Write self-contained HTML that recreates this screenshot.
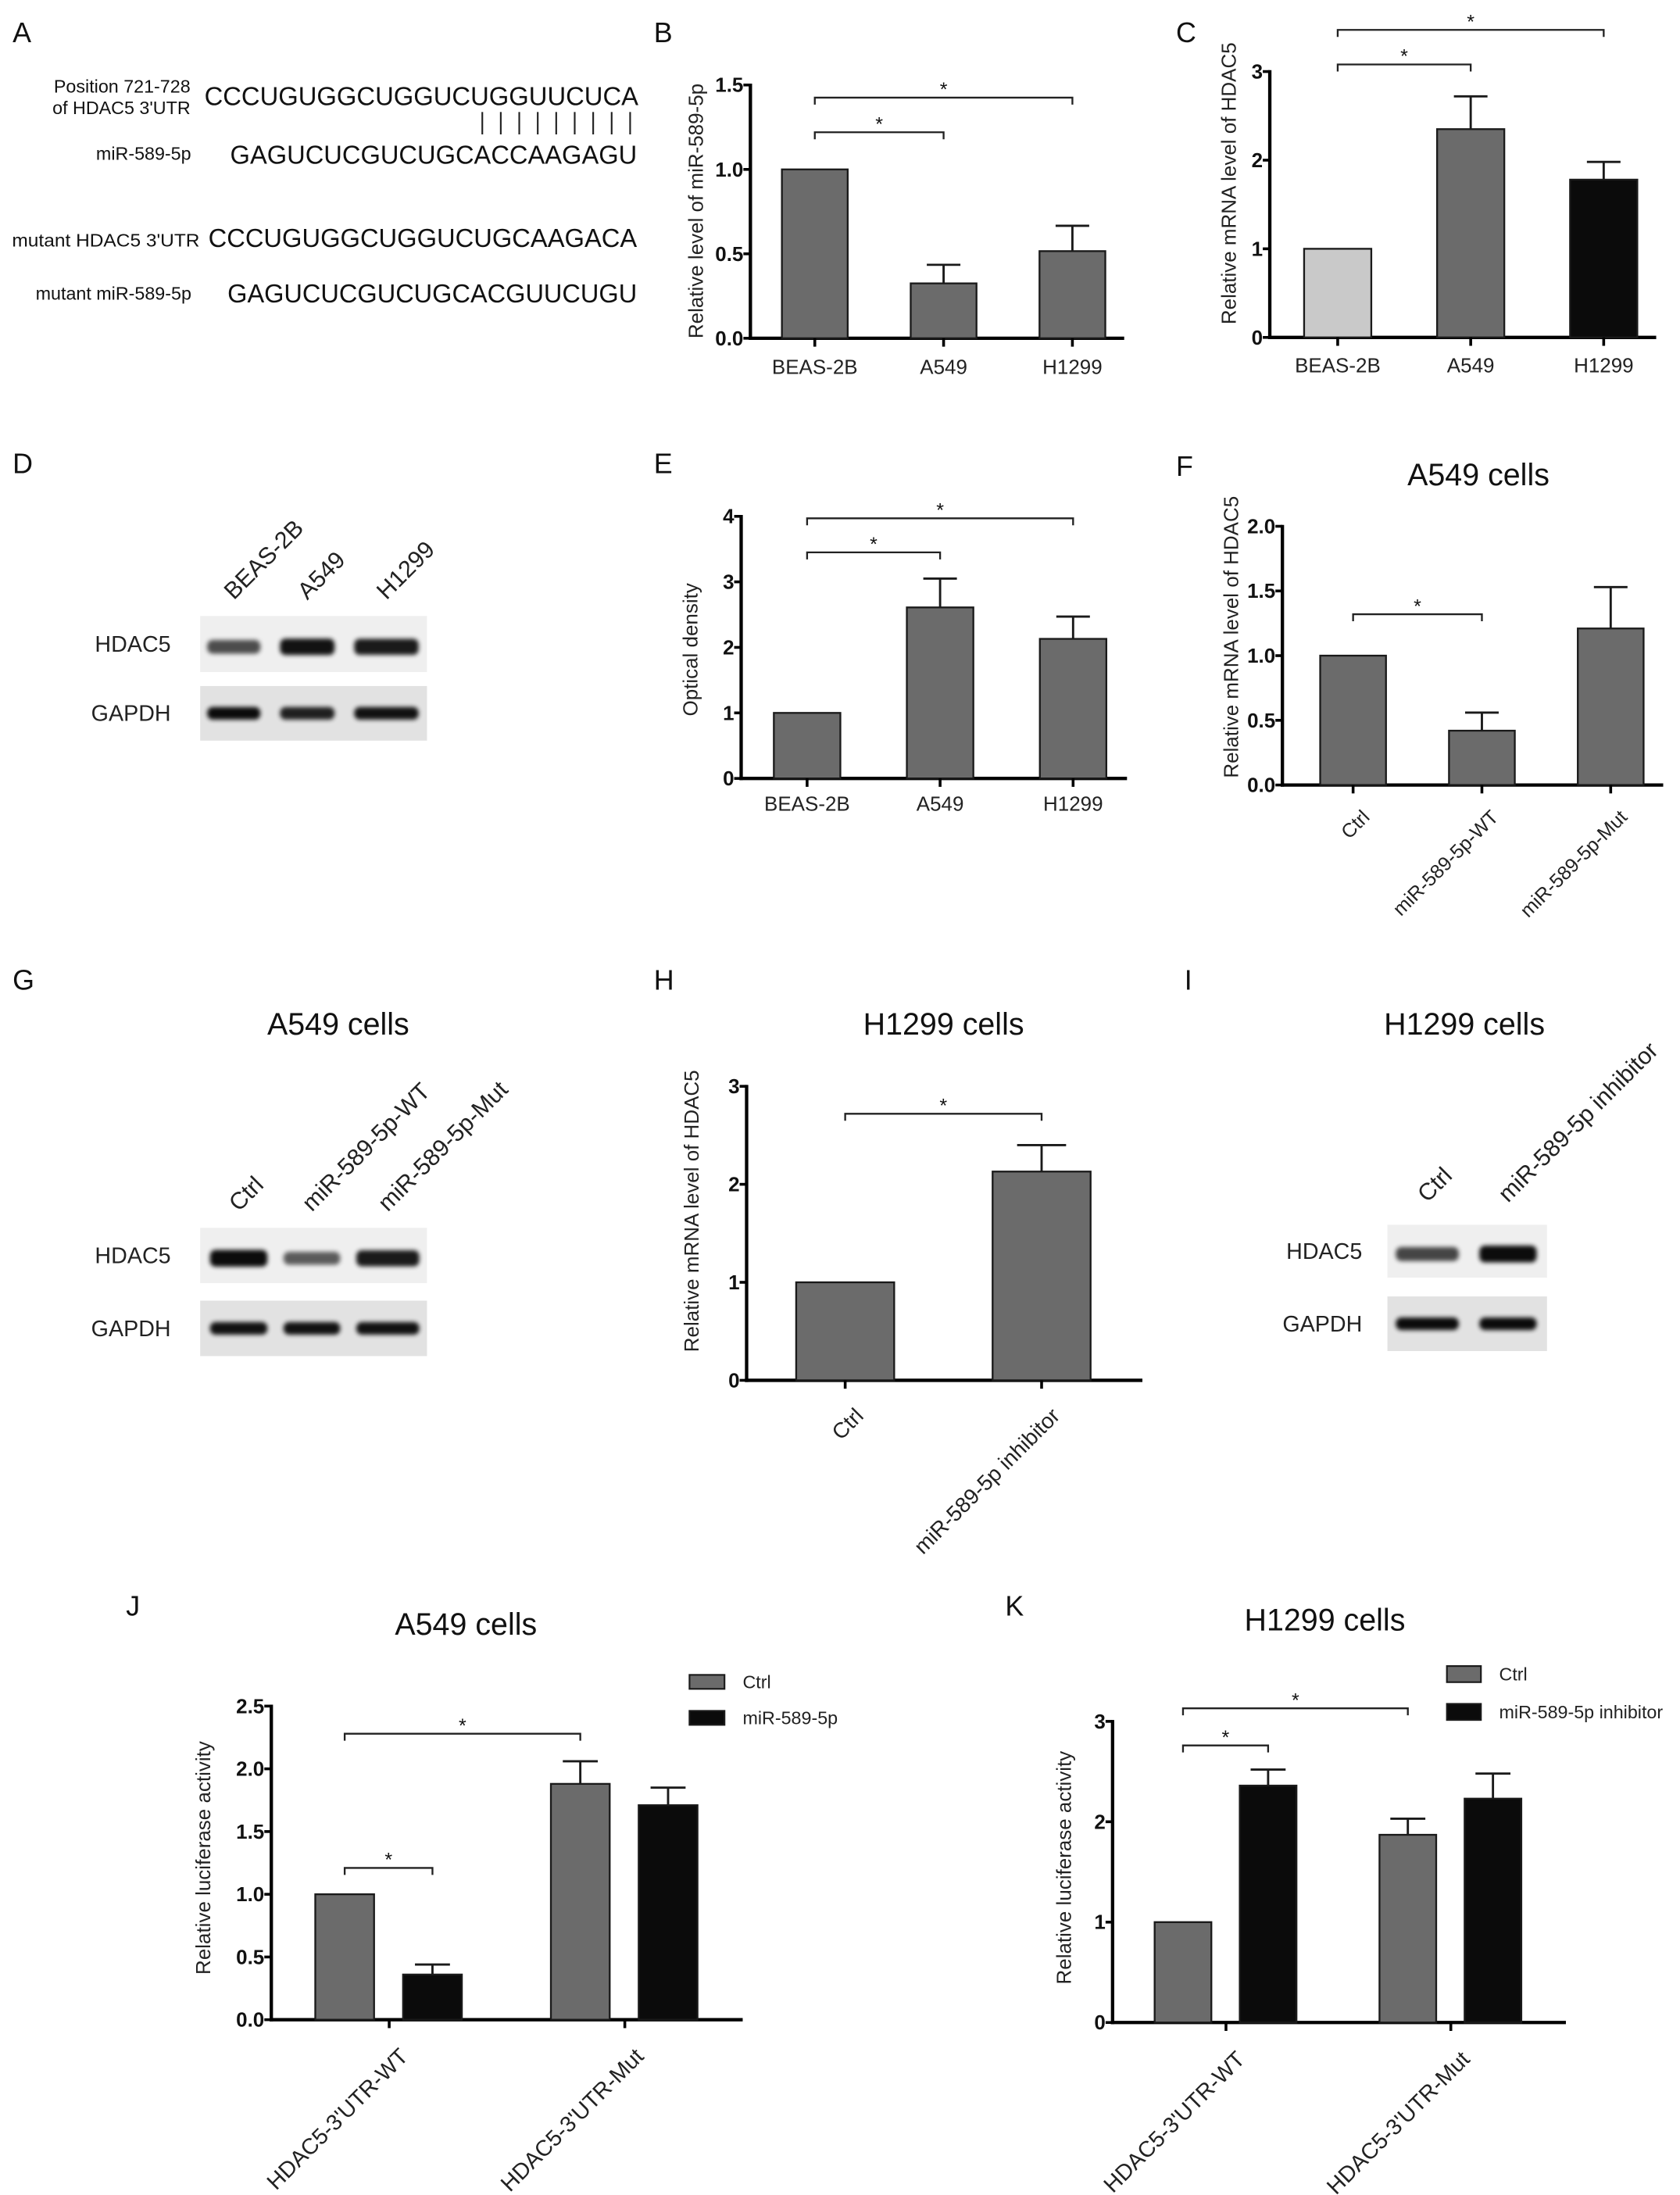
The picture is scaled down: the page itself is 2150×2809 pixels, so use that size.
<!DOCTYPE html>
<html><head><meta charset="utf-8"><title>HDAC5 / miR-589-5p figure</title>
<style>
html,body{margin:0;padding:0;background:#fff;}
svg{display:block;font-family:"Liberation Sans",Arial,sans-serif;}
</style></head>
<body>
<svg id="fig" xmlns="http://www.w3.org/2000/svg" width="2150" height="2809" viewBox="0 0 1200 1567.8" preserveAspectRatio="none">
<defs><filter id="blur" x="-20%" y="-80%" width="140%" height="260%"><feGaussianBlur stdDeviation="1.6"/></filter></defs>
<rect x="0" y="0" width="1200" height="1567.8" fill="#fff"/>

<g font-size="20" fill="#111">
<text x="9" y="30">A</text>
<text x="467" y="30">B</text>
<text x="840" y="30">C</text>
<text x="9" y="338">D</text>
<text x="467" y="338">E</text>
<text x="840" y="340">F</text>
<text x="9" y="707">G</text>
<text x="467" y="707">H</text>
<text x="846" y="707">I</text>
<text x="90" y="1154">J</text>
<text x="718" y="1154">K</text>
</g>

<g fill="#111">
<text x="136" y="66" font-size="13" text-anchor="end">Position 721-728</text>
<text x="136" y="81.5" font-size="13" text-anchor="end">of HDAC5 3'UTR</text>
<text x="146" y="75" font-size="18.4" textLength="310" lengthAdjust="spacingAndGlyphs">CCCUGUGGCUGGUCUGGUUCUCA</text>
<text x="136.5" y="114" font-size="13" text-anchor="end">miR-589-5p</text>
<text x="164.4" y="117" font-size="18.4" textLength="290.6" lengthAdjust="spacingAndGlyphs">GAGUCUCGUCUGCACCAAGAGU</text>
<text x="8.6" y="176" font-size="13" textLength="134" lengthAdjust="spacingAndGlyphs">mutant HDAC5 3'UTR</text>
<text x="148.8" y="176.5" font-size="18.4" textLength="306.2" lengthAdjust="spacingAndGlyphs">CCCUGUGGCUGGUCUGCAAGACA</text>
<text x="136.7" y="214" font-size="13" text-anchor="end">mutant miR-589-5p</text>
<text x="162.5" y="216" font-size="18.4" textLength="292.5" lengthAdjust="spacingAndGlyphs">GAGUCUCGUCUGCACGUUCUGU</text>
<g id="pairs" stroke="#222" stroke-width="1.2"></g>
</g>
<g id="charts"></g>
</svg>

<script>
const bCats = ["BEAS-2B","A549","H1299"];
const bVals = [1, 0.325, 0.516];
const bErr = [0, 0.11, 0.15];
const bTickVals = [0, 0.5, 1, 1.5];
const bTickLabels = ["0.0","0.5","1.0","1.5"];

const cCats = ["BEAS-2B","A549","H1299"];
const cVals = [1, 2.35, 1.78];
const cErr = [0, 0.37, 0.2];
const cTickVals = [0, 1, 2, 3];
const cTickLabels = ["0","1","2","3"];

const eCats = ["BEAS-2B","A549","H1299"];
const eVals = [1, 2.61, 2.13];
const eErr = [0, 0.44, 0.34];
const eTickVals = [0, 1, 2, 3, 4];
const eTickLabels = ["0","1","2","3","4"];

const fCats = ["Ctrl","miR-589-5p-WT","miR-589-5p-Mut"];
const fVals = [1, 0.42, 1.21];
const fErr = [0, 0.14, 0.32];
const fTickVals = [0, 0.5, 1, 1.5, 2];
const fTickLabels = ["0.0","0.5","1.0","1.5","2.0"];

const hCats = ["Ctrl","miR-589-5p inhibitor"];
const hVals = [1, 2.13];
const hErr = [0, 0.27];
const hTickVals = [0, 1, 2, 3];
const hTickLabels = ["0","1","2","3"];

const jCats = ["HDAC5-3'UTR-WT","HDAC5-3'UTR-Mut"];
const jSeries = ["Ctrl","miR-589-5p"];
const jCtrl = [1, 1.88];
const jCtrlErr = [0, 0.18];
const jMir = [0.36, 1.71];
const jMirErr = [0.08, 0.14];
const jTickVals = [0, 0.5, 1, 1.5, 2, 2.5];
const jTickLabels = ["0.0","0.5","1.0","1.5","2.0","2.5"];

const kCats = ["HDAC5-3'UTR-WT","HDAC5-3'UTR-Mut"];
const kSeries = ["Ctrl","miR-589-5p inhibitor"];
const kCtrl = [1, 1.87];
const kCtrlErr = [0, 0.16];
const kInh = [2.36, 2.23];
const kInhErr = [0.16, 0.25];
const kTickVals = [0, 1, 2, 3];
const kTickLabels = ["0","1","2","3"];

const NS = "http://www.w3.org/2000/svg";
const root = document.getElementById('charts');
function mk(tag, attrs, parent){
  const e = document.createElementNS(NS, tag);
  for (const k in attrs) e.setAttribute(k, attrs[k]);
  (parent || root).appendChild(e);
  return e;
}
function txt(str, attrs, parent){ const e = mk('text', attrs, parent); e.textContent = str; return e; }
const GRAY = "#6b6b6b", BLACK = "#0b0b0b", LIGHT = "#c9c9c9";

const pairs = document.getElementById('pairs');
for (let i = 0; i < 9; i++) {
  const l = mk('line', {x1: 344.5 + i*13.2, x2: 344.5 + i*13.2, y1: 80, y2: 96}, pairs);
  
  
}

function chart(name, cfg, tickVals, tickLabels, yTitle){
  const g = mk('g', {});
  
  
  const y = v => cfg.zeroY - v * cfg.unit;
  const x = i => cfg.c0 + i * cfg.step;
  const top = tickVals[tickVals.length - 1];
  const ya = mk('line', {x1: cfg.axisX, x2: cfg.axisX, y1: y(top) - 1, y2: cfg.zeroY + 1.2, stroke: "#000", "stroke-width": 2.4}, g);
  
  
  const xa = mk('line', {x1: cfg.axisX - 1.2, x2: cfg.xEnd, y1: cfg.zeroY, y2: cfg.zeroY, stroke: "#000", "stroke-width": 2.4}, g);
  
  
  tickVals.forEach((v, i) => {
    const t = mk('line', {x1: cfg.axisX - 5, x2: cfg.axisX, y1: y(v), y2: y(v), stroke: "#000", "stroke-width": 2}, g);
    
    
    const lb = txt(tickLabels[i], {x: cfg.axisX - 5, y: y(v) + 5, "font-size": 14.5, "font-weight": "bold", "text-anchor": "end", fill: "#111"}, g);
    
    
  });
  const yt = txt(yTitle, {x: 0, y: 0, "font-size": 14.5, "text-anchor": "middle", fill: "#222",
     transform: `translate(${cfg.titleX + 5},${cfg.titleY}) rotate(-90)`}, g);
  
  
  return {g, x, y};
}

function catLabels(ch, cfg, cats){
  cats.forEach((c, i) => {
    const cx = ch.x(i);
    const tk = mk('line', {x1: cx, x2: cx, y1: cfg.zeroY, y2: cfg.zeroY + 6, stroke: "#000", "stroke-width": 2}, ch.g);
    
    
    let t;
    if (cfg.rot) {
      const tx = cx + 0.9 * cfg.catFs, ty = cfg.zeroY + 1.7 * cfg.catFs;
      t = txt(c, {x: tx, y: ty, "font-size": cfg.catFs, "text-anchor": "end", fill: "#222", transform: `rotate(-45 ${tx} ${ty})`}, ch.g);
    } else {
      t = txt(c, {x: cx, y: cfg.catY, "font-size": cfg.catFs, "text-anchor": "middle", fill: "#222"}, ch.g);
    }
    
    
  });
}

function bar(ch, cfg, cx, w, v, err, fill){
  const r = mk('rect', {x: cx - w/2, y: ch.y(v), width: w, height: cfg.zeroY - ch.y(v), fill: fill, stroke: "#1a1a1a", "stroke-width": 1.3}, ch.g);
  
  
  if (err > 0) {
    const e = mk('path', {d: `M${cx} ${ch.y(v)} V${ch.y(v + err)} M${cx - cfg.cap/2} ${ch.y(v + err)} H${cx + cfg.cap/2}`, stroke: "#1a1a1a", "stroke-width": 1.6, fill: "none"}, ch.g);
    
    
  }
}

function bracket(ch, x1, x2, v){
  const yy = ch.y(v);
  const p = mk('path', {d: `M${x1} ${yy + 5} V${yy} H${x2} V${yy + 5}`, stroke: "#222", "stroke-width": 1.3, fill: "none"}, ch.g);
  
  
  const s = txt("*", {x: (x1 + x2)/2, y: yy - 1, "font-size": 14, "text-anchor": "middle", fill: "#111"}, ch.g);
  
  
}

function title(str, x, y){
  const t = txt(str, {x: x, y: y, "font-size": 22, "text-anchor": "middle", fill: "#111"});
  
  
}

const cfgB = {axisX:536, zeroY:241.6, unit:120.6, xEnd:803, c0:582, step:92, barW:47, cap:24, catFs:14.5, catY:267, titleX:497, titleY:150.7};
const chB = chart('chart-b-mir589-level', cfgB, bTickVals, bTickLabels, "Relative level of miR-589-5p");
bCats.forEach((c, i) => bar(chB, cfgB, chB.x(i), cfgB.barW, bVals[i], bErr[i], GRAY));
catLabels(chB, cfgB, bCats);
bracket(chB, chB.x(0), chB.x(1), 1.22);
bracket(chB, chB.x(0), chB.x(2), 1.425);

const cfgC = {axisX:907, zeroY:241, unit:63.3, xEnd:1183, c0:955.5, step:95, barW:48, cap:24, catFs:14.5, catY:266, titleX:877.7, titleY:131};
const cColors = [LIGHT, GRAY, BLACK];
const chC = chart('chart-c-hdac5-mrna', cfgC, cTickVals, cTickLabels, "Relative mRNA level of HDAC5");
cCats.forEach((c, i) => bar(chC, cfgC, chC.x(i), cfgC.barW, cVals[i], cErr[i], cColors[i]));
catLabels(chC, cfgC, cCats);
bracket(chC, chC.x(0), chC.x(1), 3.08);
bracket(chC, chC.x(0), chC.x(2), 3.47);

const cfgE = {axisX:529.4, zeroY:556, unit:46.8, xEnd:805, c0:576.5, step:95, barW:47.5, cap:24, catFs:14.5, catY:579, titleX:493, titleY:464};
const chE = chart('chart-e-optical-density', cfgE, eTickVals, eTickLabels, "Optical density");
eCats.forEach((c, i) => bar(chE, cfgE, chE.x(i), cfgE.barW, eVals[i], eErr[i], GRAY));
catLabels(chE, cfgE, eCats);
bracket(chE, chE.x(0), chE.x(1), 3.45);
bracket(chE, chE.x(0), chE.x(2), 3.97);

title("A549 cells", 1056, 346.5);
const cfgF = {axisX:916, zeroY:560.7, unit:92.4, xEnd:1188, c0:966.5, step:92, barW:47, cap:24, catFs:14, rot:true, titleX:879.5, titleY:455};
const chF = chart('chart-f-a549-hdac5', cfgF, fTickVals, fTickLabels, "Relative mRNA level of HDAC5");
fCats.forEach((c, i) => bar(chF, cfgF, chF.x(i), cfgF.barW, fVals[i], fErr[i], GRAY));
catLabels(chF, cfgF, fCats);
bracket(chF, chF.x(0), chF.x(1), 1.32);

title("H1299 cells", 674, 739);
const cfgH = {axisX:533.3, zeroY:985.9, unit:70, xEnd:816, c0:603.7, step:140.3, barW:70, cap:35, catFs:15.5, rot:true, titleX:494, titleY:865};
const chH = chart('chart-h-h1299-hdac5', cfgH, hTickVals, hTickLabels, "Relative mRNA level of HDAC5");
hCats.forEach((c, i) => bar(chH, cfgH, chH.x(i), cfgH.barW, hVals[i], hErr[i], GRAY));
catLabels(chH, cfgH, hCats);
bracket(chH, chH.x(0), chH.x(1), 2.72);

title("A549 cells", 332.8, 1167.5);
const cfgJ = {axisX:193.8, zeroY:1442.6, unit:89.6, xEnd:530.5, c0:278, step:168.3, barW:42, off:[-31.8, 30.9], cap:25, catFs:16, rot:true, titleX:145, titleY:1327};
const chJ = chart('chart-j-a549-luciferase', cfgJ, jTickVals, jTickLabels, "Relative luciferase activity");
jCats.forEach((c, i) => {
  bar(chJ, cfgJ, chJ.x(i) + cfgJ.off[0], cfgJ.barW, jCtrl[i], jCtrlErr[i], GRAY);
  bar(chJ, cfgJ, chJ.x(i) + cfgJ.off[1], cfgJ.barW, jMir[i], jMirErr[i], BLACK);
});
catLabels(chJ, cfgJ, jCats);
bracket(chJ, chJ.x(0) + cfgJ.off[0], chJ.x(0) + cfgJ.off[1], 1.21);
bracket(chJ, chJ.x(0) + cfgJ.off[0], chJ.x(1) + cfgJ.off[0], 2.28);

title("H1299 cells", 946.3, 1164.5);
const cfgK = {axisX:794.7, zeroY:1444.6, unit:71.7, xEnd:1118.5, c0:875.7, step:160.6, barW:40.5, off:[-30.7, 30.1], cap:25, catFs:16, rot:true, titleX:760, titleY:1334};
const chK = chart('chart-k-h1299-luciferase', cfgK, kTickVals, kTickLabels, "Relative luciferase activity");
kCats.forEach((c, i) => {
  bar(chK, cfgK, chK.x(i) + cfgK.off[0], cfgK.barW, kCtrl[i], kCtrlErr[i], GRAY);
  bar(chK, cfgK, chK.x(i) + cfgK.off[1], cfgK.barW, kInh[i], kInhErr[i], BLACK);
});
catLabels(chK, cfgK, kCats);
bracket(chK, chK.x(0) + cfgK.off[0], chK.x(0) + cfgK.off[1], 2.76);
bracket(chK, chK.x(0) + cfgK.off[0], chK.x(1) + cfgK.off[0], 3.13);

function legend(name, bx, ty0, labels, colors, bw, bh, gap, tx){
  const g = mk('g', {});
  
  
  labels.forEach((l, i) => {
    const r = mk('rect', {x: bx, y: ty0 + i*gap, width: bw, height: bh, fill: colors[i], stroke: "#1a1a1a", "stroke-width": 1.2}, g);
    
    
    const t = txt(l, {x: tx, y: ty0 + i*gap + bh/2 + 4.6, "font-size": 13, fill: "#222"}, g);
    
    
  });
}
legend('legend-j', 492.5, 1196.3, jSeries, [GRAY, BLACK], 25, 10, 25.7, 530.5);
legend('legend-k', 1033.5, 1190, kSeries, [GRAY, BLACK], 24.3, 11.5, 27, 1070.8);

function blot(name, lanes, laneLabels, x0, x1, boxes, rows, rowLabelX, intens, labelY){
  const g = mk('g', {});
  
  
  boxes.forEach((b, r) => {
    const bg = mk('rect', {x: x0, y: b[0], width: x1 - x0, height: b[1] - b[0], fill: r === 0 ? "#efefef" : "#e2e2e2"}, g);
    
    
    const rl = txt(rows[r], {x: rowLabelX, y: (b[0] + b[1])/2 + 5.5, "font-size": 16, "text-anchor": "end", fill: "#222"}, g);
    
    
    lanes.forEach((ln, i) => {
      const k = intens[r][i];
      const bh = r === 0 ? 7 + 5*k : 9;
      const band = mk('rect', {x: ln[0] + 2, y: (b[0] + b[1])/2 - bh/2 + (r === 0 ? 2 : 0), width: ln[1] - ln[0] - 4, height: bh, rx: 4,
        fill: "#000", opacity: 0.35 + 0.6*k, filter: "url(#blur)"}, g);
      
      
    });
  });
  lanes.forEach((ln, i) => {
    const lx = (ln[0] + ln[1])/2;
    const t = txt(laneLabels[i], {x: lx, y: labelY, "font-size": 17, fill: "#222", transform: `rotate(-45 ${lx} ${labelY})`}, g);
    
    
  });
}
blot('blot-d', [[146,188],[198,241],[251,301]], ["BEAS-2B","A549","H1299"], 143, 305,
     [[440,480],[490,529]], ["HDAC5","GAPDH"], 122, [[0.55,0.95,0.9],[1,0.85,0.95]], 429);
title("A549 cells", 241.6, 739);
blot('blot-g', [[148,193],[200.5,245],[252.5,301.5]], ["Ctrl","miR-589-5p-WT","miR-589-5p-Mut"], 143, 305,
     [[877,916.5],[929,968.6]], ["HDAC5","GAPDH"], 122, [[1,0.45,0.9],[0.95,0.95,0.95]], 866);
title("H1299 cells", 1046, 739);
blot('blot-i', [[995,1044],[1054.7,1099.6]], ["Ctrl","miR-589-5p inhibitor"], 991, 1105,
     [[874.8,912.6],[926,965]], ["HDAC5","GAPDH"], 973, [[0.6,1],[1,1]], 859.5);
</script>
</body></html>
